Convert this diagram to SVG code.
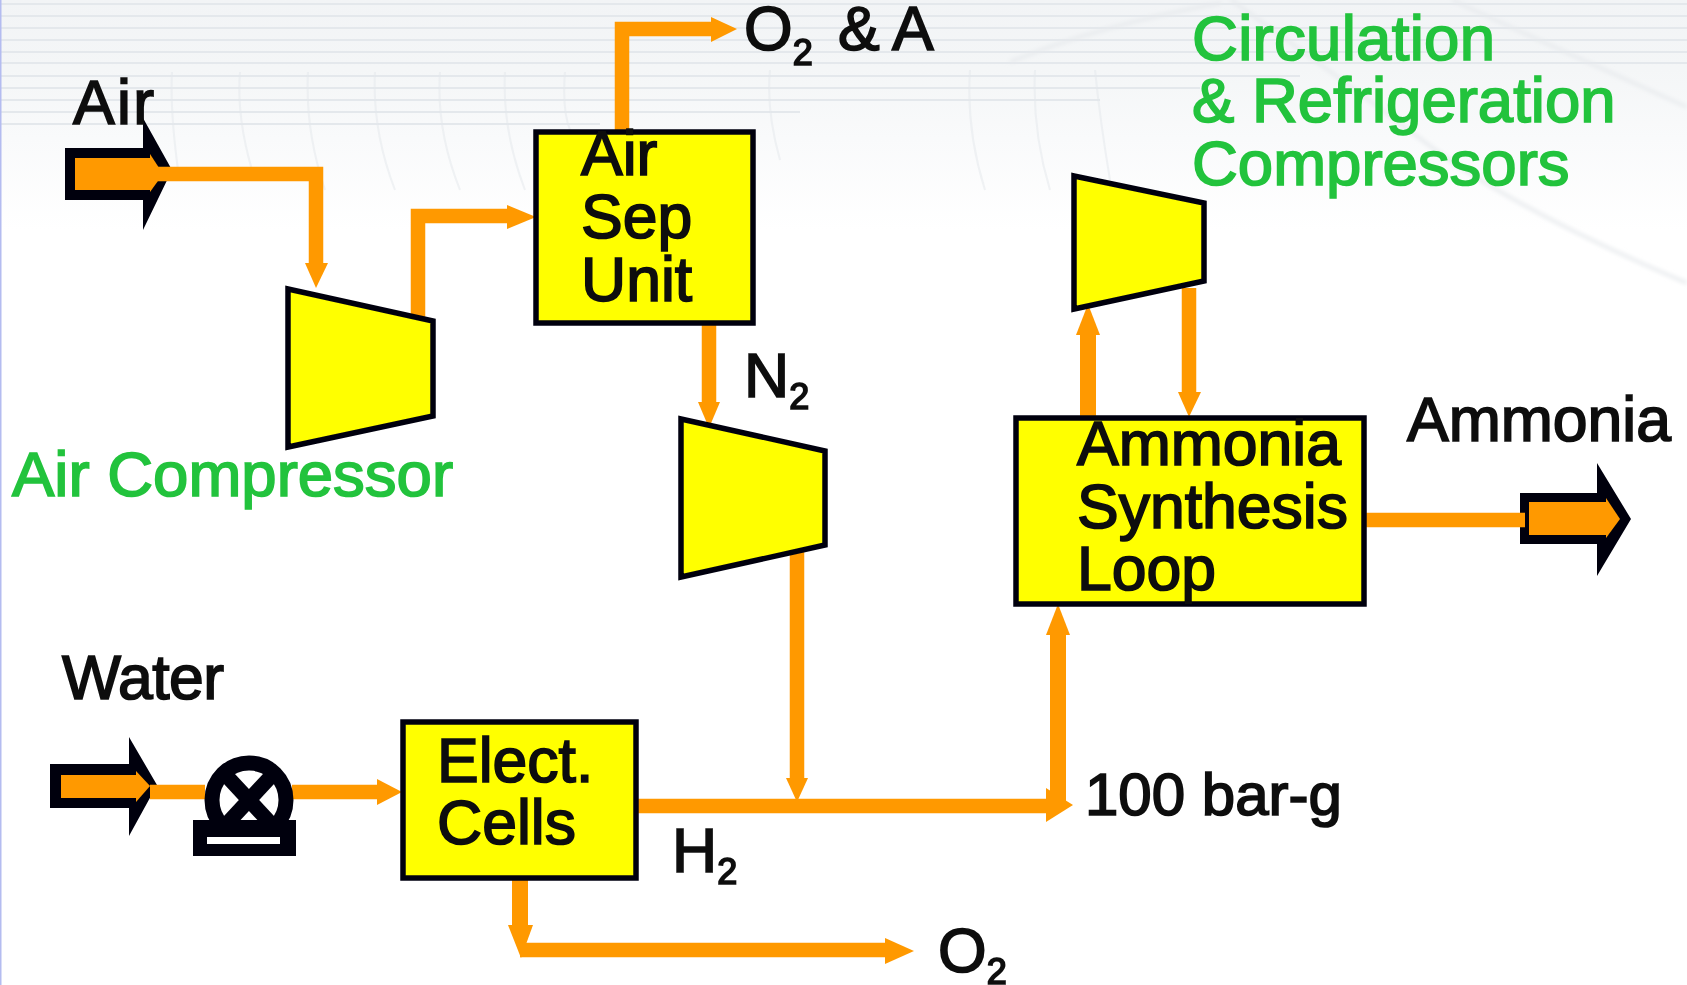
<svg xmlns="http://www.w3.org/2000/svg" width="1687" height="985" viewBox="0 0 1687 985">
<style>
text{font-family:"Liberation Sans",Arial,sans-serif;font-size:62.5px;fill:#0a0a0a;stroke:#0a0a0a;stroke-width:1.7px}
text.g{fill:#22c33c;stroke:#22c33c;font-size:63.5px}
.s{font-size:36px}
.box{fill:#ffff00;stroke:#050510;stroke-width:5.5px}
.line{fill:none;stroke:#ff9900;stroke-width:14.5px;stroke-linejoin:miter}
.thick{stroke-width:16px}
.head{fill:#ff9900}
.black{fill:#050510}
.bg{fill:none;stroke:#e4e8ec;stroke-width:2px}
.streak{fill:none;stroke:#e6e9ec;stroke-width:3px}
</style>
<defs>
<linearGradient id="fade" x1="0" y1="0" x2="0" y2="1"><stop offset="0" stop-color="#f2f4f6"/><stop offset=".3" stop-color="#f4f6f7"/><stop offset=".6" stop-color="#f9fafb"/><stop offset="1" stop-color="#ffffff"/></linearGradient>
<filter id="soft" x="-2%" y="-2%" width="104%" height="104%"><feGaussianBlur stdDeviation="0.6"/></filter>
<filter id="softer" x="-5%" y="-5%" width="110%" height="110%"><feGaussianBlur stdDeviation="2"/></filter>
</defs>
<rect width="1687" height="985" fill="#ffffff"/>
<g id="background">
<rect x="0" y="0" width="1687" height="230" fill="url(#fade)"/>
<path class="bg" d="M0 4H1687M0 16H1687M0 28H1687M0 40H1687M0 52H1687M0 63H1687M0 76H1300M0 88H1200M0 100H1100M0 112H800M0 124H600" filter="url(#soft)"/>
<g filter="url(#softer)">
<path class="streak" d="M1231 0Q1330 70 1422 140T1687 283"/>
<path class="streak" d="M1452 0Q1560 50 1687 107"/>
<path class="streak" stroke-width="12" d="M1221 3Q1100 25 1010 62"/>
</g>
<path class="bg" d="M172 72Q170 110 178 170M240 72Q236 120 255 180M308 72Q305 130 325 190M375 72Q372 130 395 190M440 72Q436 130 460 190M505 72Q502 130 525 190M565 72Q562 110 570 130M770 70Q766 110 780 160M970 70Q966 130 985 190M1035 70Q1032 130 1050 190M1095 70Q1100 120 1110 180" stroke-width="1.5" opacity=".5"/>
<rect x="0" y="0" width="1.5" height="985" fill="#b4bcf0"/>
</g>
<g filter="url(#soft)">
<g id="air-in"><path class="black" d="M65 148H143V118L172 170L143 230V200H65Z"/></g>
<g id="water-in"><path class="black" d="M50 764H129V737L157 785L129 836V808H50Z"/></g>
<g id="ammonia-out"><path class="black" d="M1520 493H1597V463L1631 519L1597 576V544H1520Z"/></g>
<g id="connectors">
<path class="line" d="M75 174H316V265"/>
<path class="head" d="M305 263H328L316 288Z"/>
<path class="head" d="M75 158H150V154L163 174L150 192V190H75Z"/>
<path class="line" d="M418 320V216H510"/>
<path class="head" d="M507 205L536 217L507 229Z"/>
<path class="line" d="M622 132V29H712"/>
<path class="head" d="M711 17L737 29L711 42Z"/>
<path class="line" d="M709 322V405"/>
<path class="head" d="M698 402H720L709 428Z"/>
<path class="line" d="M797 548V780"/>
<path class="head" d="M786 778H808L797 802Z"/>
<path class="line" d="M636 806H1050"/>
<path class="head" d="M1046 788L1073 805L1046 822Z"/>
<path class="line thick" d="M1058 806V630"/>
<path class="head" d="M1046 635L1058 604L1070 635Z"/>
<path class="line thick" d="M1088 416V330"/>
<path class="head" d="M1076 335L1088 304L1100 335Z"/>
<path class="line" d="M1189 288V395"/>
<path class="head" d="M1178 392H1201L1189 417Z"/>
<path class="line" d="M1364 520H1525"/>
<path class="head" d="M1529 502H1606V498L1620 519L1606 538V535H1529Z"/>
<path class="head" d="M61 775H136V771L150 786L136 802V798H61Z"/>
<path class="line" d="M150 792H205M292 792H380"/>
<path class="head" d="M377 779L402 792L377 805Z"/>
<path class="line thick" d="M520 880V930"/>
<path class="head" d="M508 925H533L521 958Z"/>
<path class="line" d="M520 950H892"/>
<path class="head" d="M885 938L914 951L885 964Z"/>
</g>
<g id="pump">
<circle cx="249" cy="800" r="37" fill="#fff" stroke="#050510" stroke-width="15"/>
<path d="M223 772L275 828M275 772L223 828" stroke="#050510" stroke-width="15"/>
<path d="M193 820H296V856H193Z" fill="#050510"/><rect x="207" y="837" width="73" height="7" fill="#fff"/>
</g>
<g id="air-compressor"><path class="box" d="M288 289L433 321V416L288 447Z"/><text class="g" x="12" y="496">Air Compressor</text></g>
<g id="air-sep"><rect class="box" x="536" y="132" width="217" height="191"/><text x="581" y="175">Air</text><text x="581" y="238">Sep</text><text x="581" y="301">Unit</text></g>
<g id="n2-compressor"><path class="box" d="M681 419L825 451V545L681 577Z"/><text x="744" y="397">N<tspan class="s" dy="12">2</tspan></text></g>
<g id="circ-compressor"><path class="box" d="M1074 176L1204 203V281L1074 309Z"/><text class="g" x="1192" y="60" textLength="303">Circulation</text><text class="g" x="1192" y="122">&amp; Refrigeration</text><text class="g" x="1192" y="185">Compressors</text></g>
<g id="ammonia-loop"><rect class="box" x="1016" y="418" width="348" height="186"/><text x="1077" y="465">Ammonia</text><text x="1077" y="528">Synthesis</text><text x="1077" y="590">Loop</text></g>
<g id="cells"><rect class="box" x="403" y="722" width="233" height="156"/><text x="437" y="782">Elect.</text><text x="437" y="844">Cells</text></g>
<g id="labels">
<text x="73" y="124" textLength="81">Air</text>
<text x="62" y="699" textLength="162">Water</text>
<text x="1407" y="441">Ammonia</text>
<text x="744" y="50">O<tspan class="s" dy="15">2</tspan><tspan x="838" dy="-15">&amp;</tspan><tspan x="892">A</tspan></text>
<text x="1085" y="815" style="font-size:60px">100 bar-g</text>
<text x="672" y="872">H<tspan class="s" dy="12">2</tspan></text>
<text x="938" y="972">O<tspan class="s" dy="12">2</tspan></text>
</g>
</g>
</svg>
